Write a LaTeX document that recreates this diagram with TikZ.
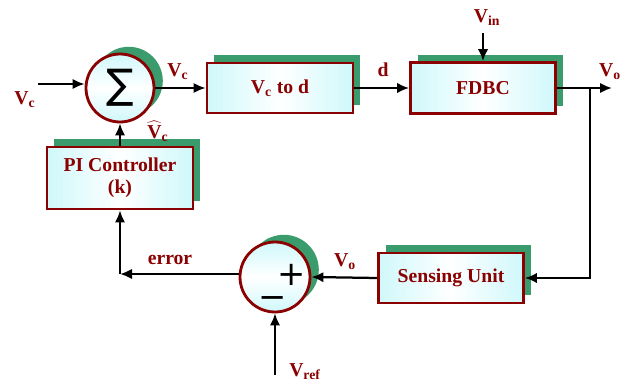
\documentclass[tikz,border=0pt]{standalone}
\usepackage{fontspec}
\setmainfont{Liberation Serif}
\newfontfamily\symfont{DejaVu Sans}
\usetikzlibrary{arrows.meta,shadows}
\definecolor{FDRed}{HTML}{8B0000}
\definecolor{FDCyan}{HTML}{CFF8FB}
\definecolor{FDShadow}{HTML}{3A9C6C}
\newcommand{\Vs}[1]{V\textsubscript{#1}}
\tikzset{
  lbl/.style={text=FDRed,font=\fontsize{14}{16}\selectfont\bfseries,inner sep=0pt},
  blockbox/.style={draw=FDRed,line width=2pt,left color=FDCyan,right color=FDCyan,middle color=white,
    drop shadow={shadow xshift=1.8mm,shadow yshift=1.9mm,fill=FDShadow,opacity=1},
    text=FDRed,font=\fontsize{14}{16}\selectfont\bfseries,align=center},
  sumcirc/.style={circle,draw=FDRed,line width=2pt,top color=FDCyan,bottom color=FDCyan,middle color=white,
    drop shadow={shadow xshift=2.2mm,shadow yshift=1.8mm,fill=FDShadow,opacity=1},
    minimum size=17mm,inner sep=0pt},
  signmark/.style={inner sep=0pt,font=\symfont\fontsize{24}{24}\selectfont},
  flowline/.style={line width=1.6pt},
  flowarrow/.style={line width=1.6pt,-{Latex[length=3mm,width=2.6mm]}}
}

\begin{document}
\begin{tikzpicture}[x=0.25mm,y=-0.25mm]
\path[use as bounding box] (0,0) rectangle (627,383);
% blocks
\node[sumcirc] (sum) at (120,88) {};
\node[inner sep=0pt,font=\symfont\fontsize{29}{29}\selectfont] (sigma) at (sum) {∑};
\node[blockbox,minimum width=36.5mm,minimum height=12.5mm] (conv) at (280,88) {\Vs{c} to d};
\node[blockbox,minimum width=36.2mm,minimum height=12.7mm] (fdbc) at (483,88) {FDBC};
\node[blockbox,minimum width=36.5mm,minimum height=15.5mm] (pi) at (120,178) {PI Controller\\(k)};
\node[blockbox,minimum width=36.2mm,minimum height=12.5mm] (sense) at (451,278) {Sensing Unit};
\node[sumcirc,minimum size=17.5mm] (cmp) at (275,277) {};
\node[signmark] (plus) at (292,275) {+};
\node[signmark,anchor=base,text height=0.4em,text depth=0pt] (minus) at (273,308) {−};
% free ends
\coordinate (cin) at (38,84);
\coordinate (vin) at (483,33);
\coordinate (vout) at (612,88);
\coordinate (br) at (590,88);
\coordinate (vref) at (275,375);
\coordinate (corner) at (120,274);
% connectors
\draw[flowarrow] (cin) -- (sum.west |- cin);
\draw[flowarrow] (sum.east) -- (conv.west);
\draw[flowarrow] (conv.east) -- (fdbc.west);
\draw[flowarrow] (vin) -- (fdbc.north);
\draw[flowarrow] (fdbc.east) -- (vout);
\draw[flowarrow] (br) |- (sense.east);
\draw[flowarrow] (sense.west) -- (cmp.east);
\draw[flowarrow] (vref) -- (cmp.south);
\draw[flowarrow] (cmp.west |- corner) -- (corner);
\draw[flowarrow] (corner) -- (pi.south);
\draw[flowarrow] (pi.north) -- (sum.south);
% labels
\node[lbl] (lcin) at (25,100) {\Vs{c}};
\node[lbl] (lvc) at (178,72) {\Vs{c}};
\node[lbl] (lhat) at (158,131) {$\widehat{\hbox{V}}$\textsubscript{c}};
\node[lbl] (ld) at (383,70) {d};
\node[lbl] (lvin) at (487,18) {\Vs{in}};
\node[lbl] (lvo) at (610,72) {\Vs{o}};
\node[lbl] (lerr) at (170,260) {error};
\node[lbl] (lvo2) at (345,262) {\Vs{o}};
\node[lbl] (lvref) at (305,372) {\Vs{ref}};
\end{tikzpicture}
\end{document}
